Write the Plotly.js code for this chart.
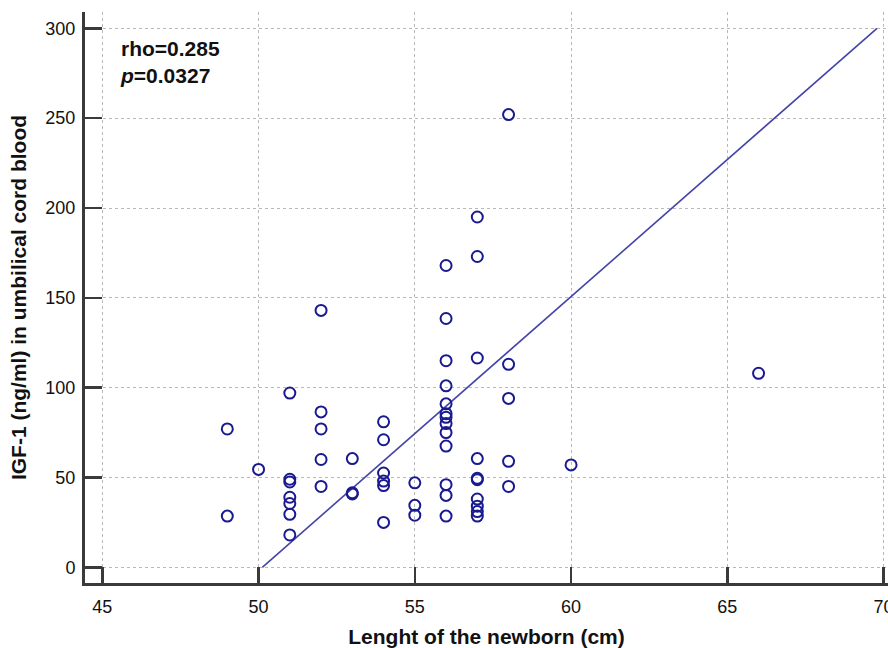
<!DOCTYPE html>
<html>
<head>
<meta charset="utf-8">
<script src="https://cdn.plot.ly/plotly-3.0.1.min.js"></script>
<style>
  html, body { margin: 0; padding: 0; background: #ffffff; }
  #chart { width: 888px; height: 648px; }
</style>
</head>
<body>
<div id="chart"></div>
<script>
// Length of the newborn (cm)
const lengthCm = [
  49, 49,
  50,
  51, 51, 51, 51, 51, 51, 51,
  52, 52, 52, 52, 52,
  53, 53, 53,
  54, 54, 54, 54, 54, 54,
  55, 55, 55,
  56, 56, 56, 56, 56, 56, 56, 56, 56, 56, 56, 56, 56,
  57, 57, 57, 57, 57, 57, 57, 57, 57, 57,
  58, 58, 58, 58, 58,
  60,
  66
];
// IGF-1 (ng/ml) in umbilical cord blood
const igf1 = [
  77, 28.5,
  54.5,
  97, 49, 47.5, 39, 35.5, 29.5, 18,
  143, 86.5, 77, 60, 45,
  60.5, 41.5, 40.8,
  81, 71, 52.5, 48, 45.5, 25,
  47, 34.5, 29,
  168, 138.5, 115, 101, 91, 85.5, 83.5, 80, 75, 67.5, 46, 40, 28.5,
  195, 173, 116.5, 60.5, 49.5, 48.8, 38, 34, 31, 28.5,
  252, 113, 94, 59, 45,
  57,
  108
];
// Fitted line end points
const fitX = [50.12, 69.79];
const fitY = [0, 300];

const xTicks = [45, 50, 55, 60, 65, 70];
const yTicks = [0, 50, 100, 150, 200, 250, 300];
const statsText = ["rho=0.285", "<i>p</i>=0.0327"];

const axisColor = '#3a3a3a';
const fontFam = 'Liberation Sans, Arial, sans-serif';

const traces = [
  {
    x: fitX, y: fitY,
    type: 'scatter', mode: 'lines',
    line: { color: '#4444a8', width: 1.6 },
    hoverinfo: 'skip', showlegend: false
  },
  {
    x: lengthCm, y: igf1,
    type: 'scatter', mode: 'markers',
    marker: { symbol: 'circle-open', size: 11, color: '#1a1a90', line: { width: 2, color: '#1a1a90' } },
    showlegend: false
  }
];

const layout = {
  width: 888, height: 648,
  margin: { l: 85, r: 0, t: 12, b: 65 },
  paper_bgcolor: '#ffffff', plot_bgcolor: '#ffffff',
  font: { family: fontFam, color: '#111111', size: 18 },
  showlegend: false,
  xaxis: {
    range: [44.446, 70.142],
    tickvals: xTicks, ticktext: xTicks.map(String),
    ticks: 'inside', ticklen: 16, tickwidth: 2.5, tickcolor: axisColor,
    showline: true, linewidth: 3, linecolor: axisColor,
    showgrid: true, gridcolor: '#b8b8b8', gridwidth: 1, griddash: 'dot',
    zeroline: false,
    tickfont: { size: 18, family: fontFam, color: '#111111' },
    ticklabelstandoff: 5,
    ticklabeloverflow: 'allow',
    title: { text: '<b>Lenght of the newborn (cm)</b>', font: { size: 21, family: fontFam, color: '#111111' }, standoff: 14 },
    fixedrange: true
  },
  yaxis: {
    range: [-8.74, 309.1],
    tickvals: yTicks, ticktext: yTicks.map(String),
    ticks: 'inside', ticklen: 17, tickwidth: 2.5, tickcolor: axisColor,
    showline: true, linewidth: 3, linecolor: axisColor,
    showgrid: true, gridcolor: '#b8b8b8', gridwidth: 1, griddash: 'dot',
    zeroline: false,
    tickfont: { size: 18, family: fontFam, color: '#111111' },
    ticklabelstandoff: 3,
    title: { text: '<b>IGF-1 (ng/ml) in umbilical cord blood</b>', font: { size: 21, family: fontFam, color: '#111111' }, standoff: 14 },
    fixedrange: true
  },
  annotations: [
    {
      xref: 'paper', yref: 'paper', x: 0.041, y: 0.96,
      xanchor: 'left', yanchor: 'top', align: 'left', showarrow: false,
      text: '<b>' + statsText.join('<br>') + '</b>',
      font: { size: 21, family: fontFam, color: '#111111' }
    }
  ]
};

Plotly.newPlot('chart', traces, layout, { displayModeBar: false, staticPlot: true });
</script>
</body>
</html>
